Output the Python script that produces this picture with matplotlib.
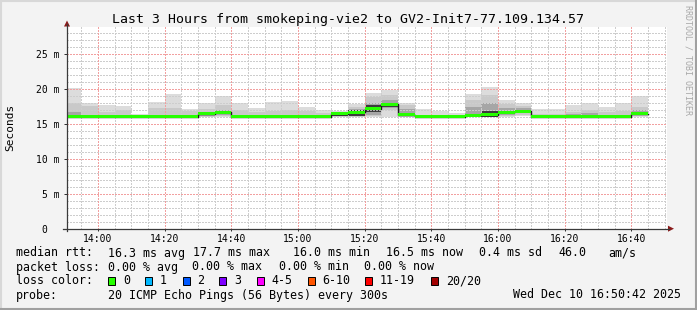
import numpy as np
import matplotlib
matplotlib.use("Agg")
import matplotlib.pyplot as plt
from matplotlib.patches import Rectangle, Polygon
from matplotlib.lines import Line2D

W, H, DPI = 697, 310, 100
MONO = "DejaVu Sans Mono"

# ---------------- data ----------------
title = "Last 3 Hours from smokeping-vie2 to GV2-Init7-77.109.134.57"
start_time = "13:50:42"
end_time = "16:50:42"
first_bin = "13:50"
bin_minutes = 5
x_tick_labels = ["14:00", "14:20", "14:40", "15:00", "15:20", "15:40", "16:00", "16:20", "16:40"]
y_ticks = [0, 5, 10, 15, 20, 25]
y_tick_labels = ["0  ", "5 m", "10 m", "15 m", "20 m", "25 m"]

# median RTT per 5-minute bin (ms)
median = [16.0, 16.0, 16.0, 16.0, 16.0, 16.0, 16.0, 16.0, 16.4, 16.6,
          16.0, 16.0, 16.0, 16.0, 16.0, 16.0, 16.4, 16.6, 17.15, 17.75,
          16.3, 16.0, 16.0, 16.0, 16.2, 16.3, 16.6, 16.8, 16.0, 16.0,
          16.0, 16.0, 16.0, 16.0, 16.45]
# smoke bands (upper / lower edge of each band, ms)
light_hi = [20.1, 17.9, 17.7, 17.5, 16.4, 18.1, 19.25, 17.1, 17.95, 18.9,
            17.9, 17.2, 18.1, 18.25, 17.4, 16.95, 16.8, 17.8, 19.35, 19.8,
            17.9, 17.15, 16.85, 16.5, 19.25, 20.3, 18.4, 17.9, 17.15, 17.15,
            17.7, 17.9, 17.4, 17.9, 18.95]
light_lo = [15.9, 15.9, 15.9, 15.9, 15.9, 15.9, 15.9, 15.9, 15.9, 15.95,
            15.9, 15.9, 15.9, 15.9, 15.9, 15.9, 15.95, 15.95, 15.95, 15.95,
            15.95, 15.9, 15.9, 15.9, 15.95, 15.95, 16.0, 16.05, 15.9, 15.9,
            15.9, 15.9, 15.9, 15.9, 16.0]
mid_hi = [18.0, 17.5, 16.7, 16.9, 16.2, 17.25, 17.2, 16.85, 17.05, 17.7,
          16.95, 16.7, 16.85, 16.9, 16.8, 16.5, 16.7, 17.4, 18.8, 19.1,
          17.6, 16.3, 16.3, 16.2, 18.4, 19.1, 17.8, 17.55, 16.4, 16.4,
          16.7, 16.9, 16.6, 16.8, 17.4]
mid_lo = [15.95, 15.95, 15.95, 15.95, 15.95, 15.95, 15.95, 15.95, 16.0, 16.1,
          15.95, 15.95, 15.95, 15.95, 15.95, 15.95, 16.0, 16.0, 16.05, 16.95,
          16.0, 15.95, 15.95, 15.95, 16.0, 16.0, 16.15, 16.3, 15.95, 15.95,
          15.95, 15.95, 15.95, 15.95, 16.1]
nan = float("nan")
inner_hi = [16.7, nan, nan, nan, nan, nan, nan, nan, 16.6, 17.0,
            nan, nan, nan, nan, nan, nan, nan, 17.05, 17.9, 18.4,
            17.05, nan, nan, nan, 17.4, 17.9, 17.2, 17.2, nan, nan,
            16.4, 16.5, nan, nan, 16.9]
inner_lo = [16.2, nan, nan, nan, nan, nan, nan, nan, 16.15, 16.3,
            nan, nan, nan, nan, nan, nan, nan, 16.05, 16.2, 17.2,
            16.1, nan, nan, nan, 16.05, 16.05, 16.3, 16.5, nan, nan,
            16.0, 16.0, nan, nan, 16.2]
core_hi = [nan, nan, nan, nan, nan, nan, nan, nan, nan, nan,
           nan, nan, nan, nan, nan, nan, 16.6, 16.95, 17.6, 17.95,
           16.5, nan, nan, nan, 16.45, 16.85, 16.85, 17.0, nan, nan,
           nan, nan, nan, nan, 16.6]
core_lo = [nan, nan, nan, nan, nan, nan, nan, nan, nan, nan,
           nan, nan, nan, nan, nan, nan, 16.15, 16.15, 16.65, 17.4,
           16.15, nan, nan, nan, 15.95, 16.0, 16.45, 16.65, nan, nan,
           nan, nan, nan, nan, 16.2]

loss_labels = ["0", "1", "2", "3", "4-5", "6-10", "11-19", "20/20"]
loss_colors = ["#26ff00", "#00b8ff", "#0059ff", "#7e00ff", "#ff00ff", "#ff5500", "#ff0000", "#a10000"]

stat_rtt = ["16.3 ms avg", "17.7 ms max", "16.0 ms min", "16.5 ms now", "0.4 ms sd", "46.0", "am/s"]
stat_loss = ["0.00 % avg", "0.00 % max", "0.00 % min", "0.00 % now"]
probe_text = "20 ICMP Echo Pings (56 Bytes) every 300s"
stamp_text = "Wed Dec 10 16:50:42 2025"

# ---------------- helpers ----------------
def tmin(s):
    p = [int(v) for v in s.split(":")]
    return p[0] * 60 + p[1] + (p[2] / 60 if len(p) > 2 else 0)

def fx(x):
    return x / W

def fy(y):
    return 1 - y / H

t0 = tmin(start_time)
span = tmin(end_time) - t0

fig = plt.figure(figsize=(W / DPI, H / DPI), dpi=DPI, facecolor="#f3f3f3")

# border shading
fig.add_artist(Line2D([0, 1], [fy(0.8), fy(0.8)], transform=fig.transFigure, color="#d8d8d8", lw=1.5))
fig.add_artist(Line2D([fx(0.8), fx(0.8)], [0, 1], transform=fig.transFigure, color="#d8d8d8", lw=1.5))
fig.add_artist(Line2D([0, 1], [fy(H - 1), fy(H - 1)], transform=fig.transFigure, color="#a0a0a0", lw=1.5))
fig.add_artist(Line2D([fx(W - 1), fx(W - 1)], [0, 1], transform=fig.transFigure, color="#a0a0a0", lw=1.5))

ax_l, ax_r, ax_t, ax_b = 67, 667, 27.3, 228.7
ax = fig.add_axes([fx(ax_l), fy(ax_b), (ax_r - ax_l) / W, (ax_b - ax_t) / H])
ax.set_facecolor("white")
ax.set_xlim(0, span)
ax.set_ylim(0, 28.77)
for s in ax.spines.values():
    s.set_visible(False)

n = len(median)
starts = np.array([tmin(first_bin) - t0 + bin_minutes * i for i in range(n)])
med = np.array(median)

def band(hi, lo, color, z):
    hi = np.array(hi); lo = np.array(lo)
    ok = ~np.isnan(hi)
    ax.bar(starts[ok], (hi - lo)[ok], bottom=lo[ok], width=bin_minutes, align="edge",
           color=color, linewidth=0, zorder=z)

band(light_hi, light_lo, "#dcdcdc", 1)
band(mid_hi, mid_lo, "#c9c9c9", 1.1)
band(inner_hi, inner_lo, "#a6a6a6", 1.2)
band(core_hi, core_lo, "#3c3c3c", 1.3)

# grid (drawn above smoke), crisp dotted lines
grid_ls = (0, (2, 2))
major_x = [tmin(l) - t0 for l in x_tick_labels]
minor_x = np.arange(tmin("13:55") - t0, span, bin_minutes)
gl = []
for x in minor_x:
    if min(abs(x - m) for m in major_x) > 0.1:
        gl.append(ax.axvline(x, color="#cdcdcd", lw=0.72, ls=grid_ls, zorder=2))
for y in range(1, 29):
    if y % 5:
        gl.append(ax.axhline(y, color="#cdcdcd", lw=0.72, ls=grid_ls, zorder=2))
for x in major_x:
    gl.append(ax.axvline(x, color="#f2a0a0", lw=0.72, ls=grid_ls, zorder=2.1))
for y in y_ticks[1:]:
    gl.append(ax.axhline(y, color="#f2a0a0", lw=0.72, ls=grid_ls, zorder=2.1))
for g in gl:
    g.set_antialiased(False)

# median: dark step + green bars
edges = np.r_[starts, starts[-1] + bin_minutes]
ax.step(edges, np.r_[med, med[-1]], where="post", color="#1a1a1a", lw=1.0, zorder=3)
ax.bar(starts, 0.42, bottom=med - 0.21, width=bin_minutes, align="edge",
       color=loss_colors[0], linewidth=0, zorder=4)

# ticks
ax.set_xticks(major_x)
ax.set_xticklabels(x_tick_labels, fontfamily=MONO, fontsize=7)
ax.set_yticks(y_ticks)
ax.set_yticklabels(y_tick_labels, fontfamily=MONO, fontsize=7)
ax.tick_params(axis="y", length=2.2, width=0.72, color="#333333", pad=2.9)
ax.tick_params(axis="x", length=1.5, width=0.72, color="#333333", pad=2.5)

# axis lines with arrows
axis_c = "#3a3a3a"
fig.add_artist(Line2D([fx(67), fx(67)], [fy(231), fy(24)], transform=fig.transFigure, color=axis_c, lw=0.9))
fig.add_artist(Line2D([fx(63), fx(669)], [fy(ax_b), fy(ax_b)], transform=fig.transFigure, color=axis_c, lw=0.9))
fig.add_artist(Polygon([[fx(64), fy(26.5)], [fx(70), fy(26.5)], [fx(67), fy(20.5)]],
                       closed=True, transform=fig.transFigure, color="#8b1a1a", lw=0))
fig.add_artist(Polygon([[fx(668), fy(225.7)], [fx(668), fy(231.7)], [fx(674), fy(228.7)]],
                       closed=True, transform=fig.transFigure, color="#8b1a1a", lw=0))

# texts
fig.text(fx(348), fy(19), title, ha="center", va="center", fontfamily=MONO, fontsize=9.5)
fig.text(fx(10), fy(127), "Seconds", rotation=90, ha="center", va="center", fontfamily=MONO, fontsize=8)
fig.text(fx(688), fy(60), "RRDTOOL / TOBI OETIKER", rotation=270, ha="center", va="center",
         fontfamily=MONO, fontsize=6, color="#a8a8a8")

FS = 8.4
def t(x, y, s, **kw):
    fig.text(fx(x), fy(y), s, ha=kw.pop("ha", "left"), va="center", fontfamily=MONO, fontsize=FS, **kw)

rows = [253, 267, 281, 295]
t(15.6, rows[0], "median rtt:")
for x, s in zip([107.6, 193, 293, 386, 479, 558, 608], stat_rtt):
    t(x, rows[0], s)
t(15.6, rows[1], "packet loss:")
for x, s in zip([107.6, 192.4, 279, 364.4], stat_loss):
    t(x, rows[1], s)
t(15.6, rows[2], "loss color:")
box_x = [108, 145, 182.5, 219, 256.5, 307.6, 365.3, 431]
lab_x = [123, 160, 197, 234, 271, 322, 380, 446]
for bx, lx, lab, col in zip(box_x, lab_x, loss_labels, loss_colors):
    fig.add_artist(Rectangle((fx(bx), fy(rows[2] + 4)), 7 / W, 8 / H, transform=fig.transFigure,
                             facecolor=col, edgecolor="black", lw=0.7))
    t(lx, rows[2], lab)
t(15.6, rows[3], "probe:")
t(107.6, rows[3], probe_text)
t(681, rows[3], stamp_text, ha="right")

fig.savefig("out.png", dpi=DPI, facecolor=fig.get_facecolor())
